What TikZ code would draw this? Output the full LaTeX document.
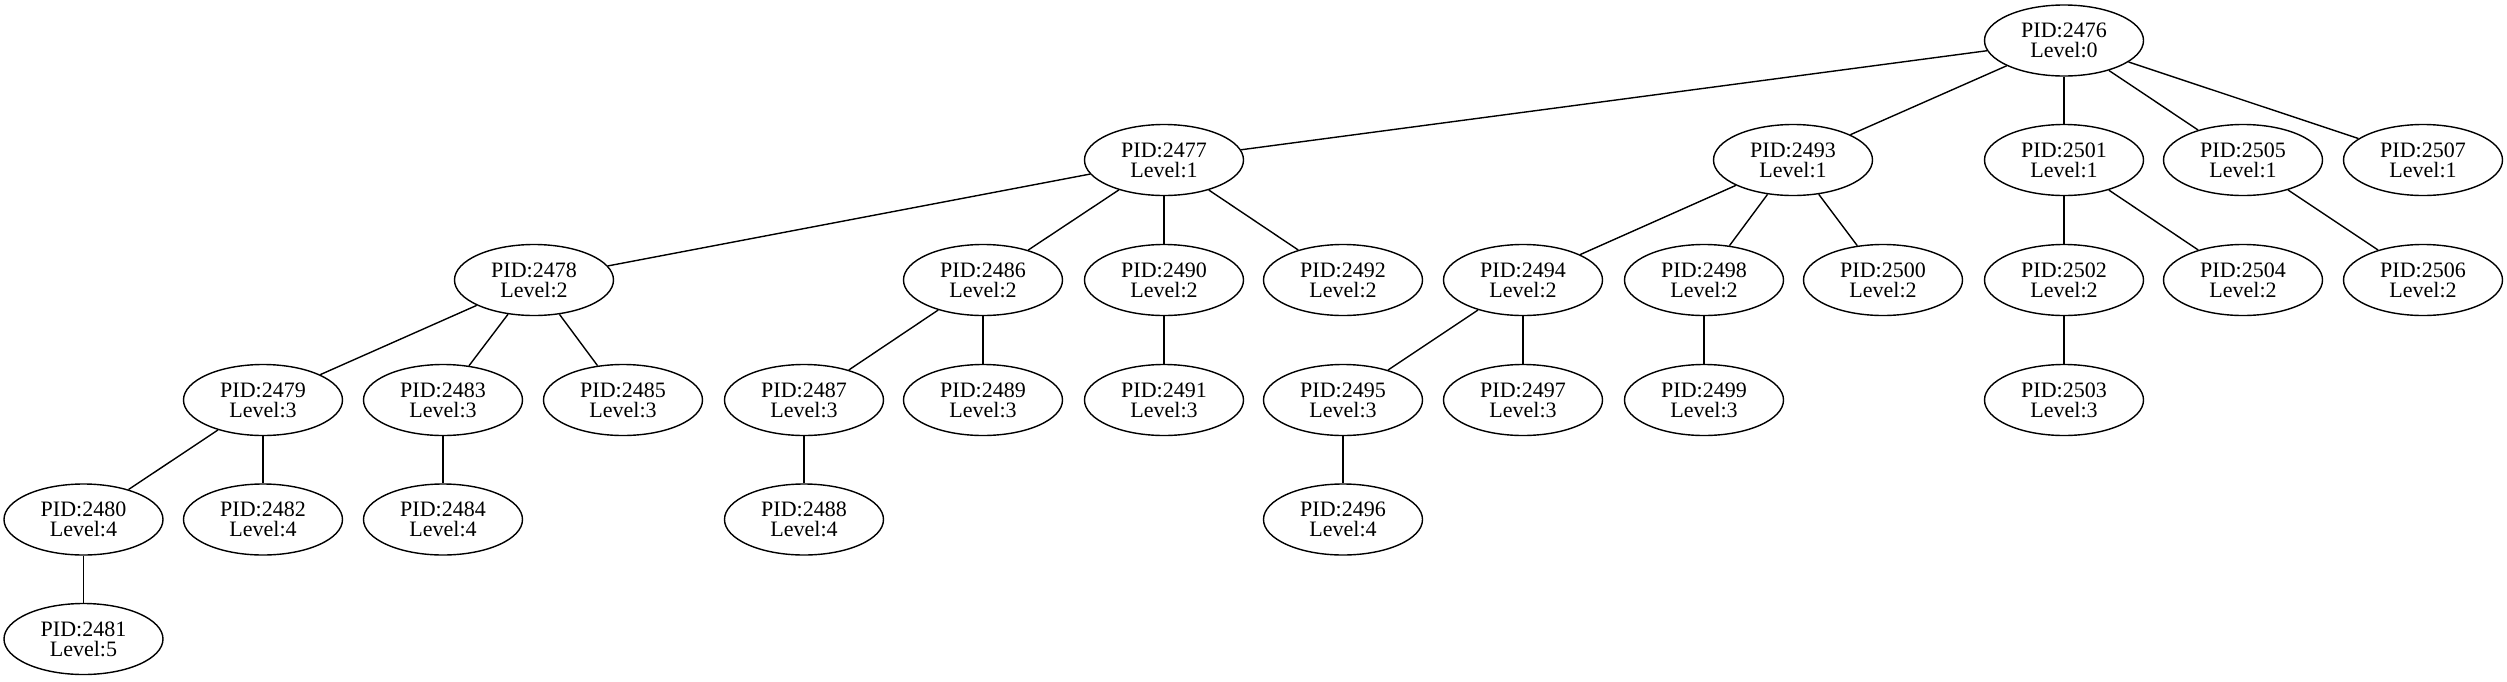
\documentclass[tikz,border=0pt]{standalone}
\usepackage{fontspec}
\setmainfont{Liberation Serif}
\usepackage{tikz}
\usetikzlibrary{shapes.geometric}

\tikzset{
  proc/.style={draw, ellipse, line width=0.7pt, minimum width=79.5pt, minimum height=35.5pt,
    inner sep=0pt, align=center, font=\fontsize{11}{10}\selectfont},
  link/.style={line width=0.7pt}
}

\begin{document}
\begin{tikzpicture}[x=0.5pt,y=-0.5pt]
\useasboundingbox (0,0) rectangle (2507,681);
% level 0
\node[proc] (p2476) at (2064,40.5) {PID:2476\\Level:0};
% level 1
\node[proc] (p2477) at (1164,160) {PID:2477\\Level:1};
\node[proc] (p2493) at (1793,160) {PID:2493\\Level:1};
\node[proc] (p2501) at (2064,160) {PID:2501\\Level:1};
\node[proc] (p2505) at (2243,160) {PID:2505\\Level:1};
\node[proc] (p2507) at (2423,160) {PID:2507\\Level:1};
% level 2
\node[proc] (p2478) at (534,280) {PID:2478\\Level:2};
\node[proc] (p2486) at (983,280) {PID:2486\\Level:2};
\node[proc] (p2490) at (1164,280) {PID:2490\\Level:2};
\node[proc] (p2492) at (1343,280) {PID:2492\\Level:2};
\node[proc] (p2494) at (1523,280) {PID:2494\\Level:2};
\node[proc] (p2498) at (1704,280) {PID:2498\\Level:2};
\node[proc] (p2500) at (1883,280) {PID:2500\\Level:2};
\node[proc] (p2502) at (2064,280) {PID:2502\\Level:2};
\node[proc] (p2504) at (2243,280) {PID:2504\\Level:2};
\node[proc] (p2506) at (2423,280) {PID:2506\\Level:2};
% level 3
\node[proc] (p2479) at (263,400) {PID:2479\\Level:3};
\node[proc] (p2483) at (443,400) {PID:2483\\Level:3};
\node[proc] (p2485) at (623,400) {PID:2485\\Level:3};
\node[proc] (p2487) at (804,400) {PID:2487\\Level:3};
\node[proc] (p2489) at (983,400) {PID:2489\\Level:3};
\node[proc] (p2491) at (1164,400) {PID:2491\\Level:3};
\node[proc] (p2495) at (1343,400) {PID:2495\\Level:3};
\node[proc] (p2497) at (1523,400) {PID:2497\\Level:3};
\node[proc] (p2499) at (1704,400) {PID:2499\\Level:3};
\node[proc] (p2503) at (2064,400) {PID:2503\\Level:3};
% level 4
\node[proc] (p2480) at (83.5,519.5) {PID:2480\\Level:4};
\node[proc] (p2482) at (263,519.5) {PID:2482\\Level:4};
\node[proc] (p2484) at (443,519.5) {PID:2484\\Level:4};
\node[proc] (p2488) at (804,519.5) {PID:2488\\Level:4};
\node[proc] (p2496) at (1343,519.5) {PID:2496\\Level:4};
% level 5
\node[proc] (p2481) at (83.5,639) {PID:2481\\Level:5};
% edges
\draw[link] (p2476) -- (p2477);
\draw[link] (p2476) -- (p2493);
\draw[link] (p2476) -- (p2501);
\draw[link] (p2476) -- (p2505);
\draw[link] (p2476) -- (p2507);
\draw[link] (p2477) -- (p2478);
\draw[link] (p2477) -- (p2486);
\draw[link] (p2477) -- (p2490);
\draw[link] (p2477) -- (p2492);
\draw[link] (p2478) -- (p2479);
\draw[link] (p2478) -- (p2483);
\draw[link] (p2478) -- (p2485);
\draw[link] (p2479) -- (p2480);
\draw[link] (p2479) -- (p2482);
\draw[link] (p2480) -- (p2481);
\draw[link] (p2483) -- (p2484);
\draw[link] (p2486) -- (p2487);
\draw[link] (p2486) -- (p2489);
\draw[link] (p2487) -- (p2488);
\draw[link] (p2490) -- (p2491);
\draw[link] (p2493) -- (p2494);
\draw[link] (p2493) -- (p2498);
\draw[link] (p2493) -- (p2500);
\draw[link] (p2494) -- (p2495);
\draw[link] (p2494) -- (p2497);
\draw[link] (p2495) -- (p2496);
\draw[link] (p2498) -- (p2499);
\draw[link] (p2501) -- (p2502);
\draw[link] (p2501) -- (p2504);
\draw[link] (p2502) -- (p2503);
\draw[link] (p2505) -- (p2506);
\end{tikzpicture}
\end{document}
